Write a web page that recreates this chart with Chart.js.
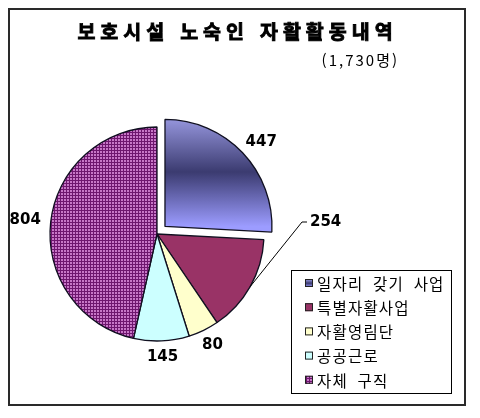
<!DOCTYPE html>
<html lang="ko">
<head>
<meta charset="utf-8">
<title>보호시설 노숙인 자활활동내역</title>
<script src="https://cdn.jsdelivr.net/npm/chart.js@4.4.1/dist/chart.umd.min.js"></script>
<style>
  html, body { margin: 0; padding: 0; background: #fff; }
  canvas { display: block; }
</style>
</head>
<body>
<canvas id="pieChart" width="480" height="418"></canvas>
<script>
// 데이터
const categories = ["일자리 갖기 사업", "특별자활사업", "자활영림단", "공공근로", "자체 구직"];
const values = [447, 254, 80, 145, 804];
const titleText = "보호시설 노숙인 자활활동내역";
const subtitleText = "(1,730명)";

const KR = '"Noto Sans CJK KR", "Noto Sans", sans-serif';
const NUM = '"DejaVu Sans", "Liberation Sans", sans-serif';
const RADIUS = 107;

// 자체 구직 : 점무늬
function makeDots() {
  const c = document.createElement("canvas");
  c.width = 3;
  c.height = 3;
  const g = c.getContext("2d");
  g.fillStyle = "#6e166e";
  g.fillRect(0, 0, 3, 3);
  g.fillStyle = "#c777c7";
  g.fillRect(1, 1, 2, 2);
  return g.createPattern(c, "repeat");
}
const dots = makeDots();

// 일자리 갖기 사업 : 세로 그라데이션
function blueFill(top, bottom, ctx) {
  const g = ctx.createLinearGradient(0, top, 0, bottom);
  g.addColorStop(0, "#a4a4ee");
  g.addColorStop(0.53, "#3b3b70");
  g.addColorStop(1, "#9c9cff");
  return g;
}

function sliceFill(context) {
  const chart = context.chart;
  const i = context.dataIndex;
  if (i === 0) {
    const area = chart.chartArea;
    if (!area) return "#7070c0";
    const cy = (area.top + area.bottom) / 2;
    return blueFill(cy - RADIUS - 9, cy, chart.ctx);
  }
  return ["", "#993366", "#ffffcc", "#ccffff", dots][i];
}

const pieDecor = {
  id: "pieDecor",
  beforeDraw(chart) {
    const c = chart.ctx;
    c.save();
    c.fillStyle = "#fff";
    c.fillRect(0, 0, chart.width, chart.height);
    c.strokeStyle = "#2a2a2a";
    c.lineWidth = 2;
    c.strokeRect(9, 9, 456, 396);

    // 제목 (굵게 보이도록 테두리도 그림)
    c.fillStyle = "#000";
    c.strokeStyle = "#000";
    c.lineWidth = 0.9;
    c.textBaseline = "middle";
    c.font = "bold 19.5px " + KR;
    c.letterSpacing = "5px";
    const words = titleText.split(" ");
    const gap = 16;
    const widths = words.map((w) => c.measureText(w).width - 5);
    const total = widths.reduce((a, b) => a + b, 0) + gap * (words.length - 1);
    let x = 235 - total / 2;
    c.textAlign = "left";
    words.forEach((w, k) => {
      c.fillText(w, x, 32);
      c.strokeText(w, x, 32);
      x += widths[k] + gap;
    });

    // 부제
    c.font = "15px " + KR;
    c.letterSpacing = "2px";
    c.textAlign = "right";
    c.fillText(subtitleText, 399, 60);
    c.restore();
  },
  afterDatasetsDraw(chart, args, opts) {
    const c = chart.ctx;
    const meta = chart.getDatasetMeta(0);
    c.save();
    c.font = "bold 15px " + NUM;
    c.fillStyle = "#000";
    c.textBaseline = "middle";
    c.textAlign = "center";
    c.letterSpacing = "0px";

    meta.data.forEach((arc, i) => {
      const p = arc.getProps(["x", "y", "startAngle", "endAngle", "outerRadius"], true);
      const mid = (p.startAngle + p.endAngle) / 2;
      const shift = (arc.options.offset || 0) / 4;
      const text = String(values[i]);
      const w = c.measureText(text).width;
      if (i === opts.leader.index) {
        // 지시선으로 옮긴 라벨
        const ex = p.x + Math.cos(mid) * p.outerRadius;
        const ey = p.y + Math.sin(mid) * p.outerRadius;
        const tx = p.x + opts.leader.dx;
        const ty = p.y + opts.leader.dy;
        c.strokeStyle = "#000";
        c.lineWidth = 1;
        c.beginPath();
        c.moveTo(ex, ey);
        c.lineTo(tx - 8, ty);
        c.lineTo(tx - 3, ty);
        c.stroke();
        c.textAlign = "left";
        c.fillText(text, tx, ty);
        c.textAlign = "center";
        return;
      }
      const r = p.outerRadius + shift + opts.gap;
      const px = p.x + Math.cos(mid) * r;
      const py = p.y + Math.sin(mid) * r;
      c.fillText(text, px + Math.cos(mid) * w / 2, py + Math.sin(mid) * 6);
    });

    // 범례
    const L = opts.legend;
    c.fillStyle = "#fff";
    c.fillRect(L.x, L.y, L.w, L.h);
    c.strokeStyle = "#000";
    c.lineWidth = 1;
    c.strokeRect(L.x + 0.5, L.y + 0.5, L.w, L.h);
    c.font = "15.5px " + KR;
    c.letterSpacing = "1.2px";
    c.wordSpacing = "5px";
    c.textAlign = "left";
    categories.forEach((name, i) => {
      const y = L.y + 13 + i * L.step;
      const sx = L.x + 14;
      c.fillStyle = i === 0 ? blueFill(y - 4, y + 4, c) : meta.data[i].options.backgroundColor;
      c.fillRect(sx, y - 4, 8, 8);
      c.strokeStyle = "#222";
      c.strokeRect(sx + 0.5, y - 3.5, 7, 7);
      c.fillStyle = "#000";
      c.fillText(name, L.x + 26, y + 1);
    });
    c.restore();
  }
};

new Chart(document.getElementById("pieChart"), {
  type: "pie",
  data: {
    labels: categories,
    datasets: [
      {
        data: values,
        backgroundColor: sliceFill,
        borderColor: "#101020",
        borderWidth: 1.3,
        offset: [44, 0, 0, 0, 0],
      },
    ],
  },
  options: {
    responsive: false,
    animation: false,
    radius: RADIUS,
    layout: { padding: { left: 20, right: 186, top: 110, bottom: 60 } },
    plugins: {
      legend: { display: false },
      title: { display: false },
      tooltip: { enabled: false },
      pieDecor: {
        gap: 10,
        leader: { index: 1, dx: 153, dy: -12 },
        legend: { x: 291, y: 270, w: 160, h: 123, step: 24.2 },
      },
    },
  },
  plugins: [pieDecor],
});
</script>
</body>
</html>
